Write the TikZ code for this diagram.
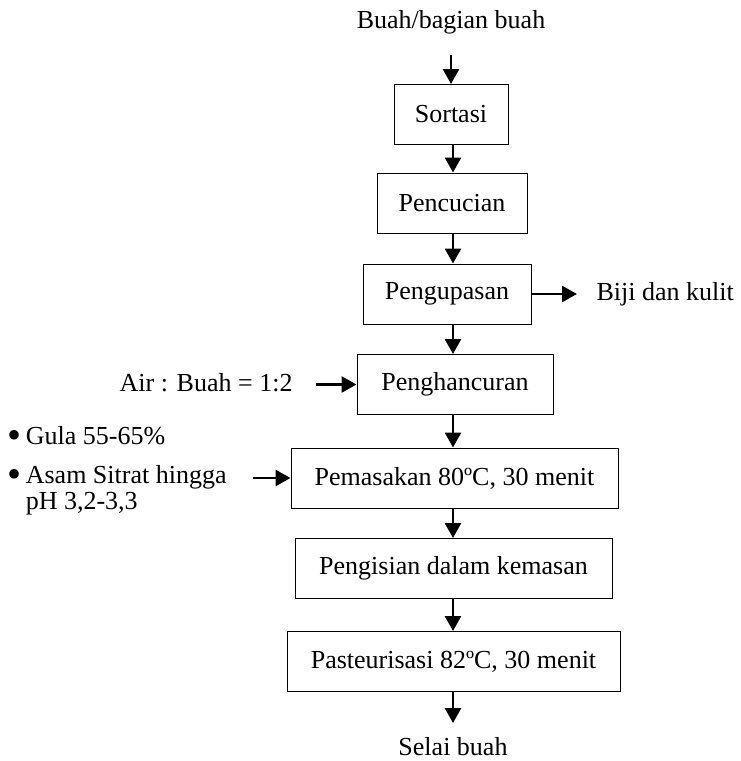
\documentclass[tikz,border=0pt]{standalone}
\usepackage{fontspec}
\setmainfont{Liberation Serif}
\usetikzlibrary{arrows.meta}
\tikzset{every picture/.style={line width=0.75pt}}
\newcommand{\butir}{\raisebox{-3pt}{\fontsize{30}{30}\selectfont\textbullet}}

\begin{document}
\begin{tikzpicture}[x=0.75pt,y=0.75pt,yscale=-1,xscale=1,
  font=\fontsize{19.5}{23}\selectfont,
  stepbox/.style={draw, line width=0.75pt, minimum height=45pt, inner sep=0pt},
  flow/.style={line width=2pt, -{Triangle[width=12pt,length=11.25pt]}}]
\useasboundingbox (0,0) rectangle (741,761);

% Process boxes
\node [stepbox, minimum width=85.5pt] (sort) at (451,114.5) {Sortasi};
\node [stepbox, minimum width=112.5pt] (cuci) at (452,203) {Pencucian};
\node [stepbox, minimum width=126pt] (kupas) at (447,294) {Pengupasan};
\node [stepbox, minimum width=147pt] (hancur) at (455,384.5) {Penghancuran};
\node [stepbox, minimum width=245.25pt] (masak) at (454.5,478) {Pemasakan 80ºC, 30 menit};
\node [stepbox, minimum width=237.75pt] (isi) at (453.5,568.5) {Pengisian dalam kemasan};
\node [stepbox, minimum width=249.75pt] (pasteur) at (453.5,661.5) {Pasteurisasi 82ºC, 30 menit};

% Text Node
\node (masuk) at (451,22) {Buah/bagian buah};
% Text Node
\node [anchor=base, inner sep=0pt] (keluar) at (453,755) {Selai buah};
% Text Node
\node [anchor=west, inner sep=0pt] (limbah) at (596,294) {Biji dan kulit};
% Text Node
\node [anchor=east, inner sep=0pt] (air) at (293,383) {Air : Buah = 1:2};
% Text Node
\node [anchor=west, inner sep=0pt] (gula) at (7,437) {\butir\,Gula 55-65\%};
% Text Node
\node [anchor=west, inner sep=0pt, align=left, font=\fontsize{19.5}{19.5}\selectfont] (asam) at (7,490)
  {\butir\,Asam Sitrat hingga\\\phantom{\butir\,}pH 3,2-3,3};

% Free ends
\coordinate (col) at (453,0);
\coordinate (awal) at (451,55);
\coordinate (akhir) at (453,723);
\coordinate (buang) at (577,294);
\coordinate (aditif) at (253,478);

% Straight Lines
\draw [flow] (awal) -- (sort.north -| awal);
\draw [flow] (sort.south -| col) -- (cuci.north -| col);
\draw [flow] (cuci.south -| col) -- (kupas.north -| col);
\draw [flow] (kupas.south -| col) -- (hancur.north -| col);
\draw [flow] (hancur.south -| col) -- (masak.north -| col);
\draw [flow] (masak.south -| col) -- (isi.north -| col);
\draw [flow] (isi.south -| col) -- (pasteur.north -| col);
\draw [flow] (pasteur.south -| col) -- (akhir);
\draw [flow] (kupas.east) -- (buang);
\draw [flow] ([xshift=17pt]air.east |- hancur.west) -- (hancur.west);
\draw [flow] (aditif) -- (aditif -| masak.west);

\end{tikzpicture}
\end{document}
